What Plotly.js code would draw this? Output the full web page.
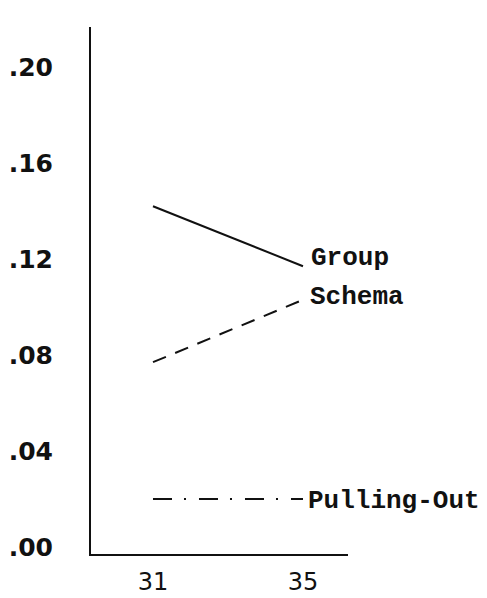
<!DOCTYPE html>
<html>
<head>
<meta charset="utf-8">
<script src="https://cdn.plot.ly/plotly-3.0.1.min.js"></script>
<style>html,body{margin:0;padding:0;background:#fff;}#chart{width:487px;height:598px;}</style>
</head>
<body>
<div id="chart"></div>
<script>
// Data
const xCategories = [31, 35];
const groupValues = [0.142, 0.117];
const schemaValues = [0.077, 0.103];
const pullingOutValues = [0.020, 0.020];
const seriesNames = ["Group", "Schema", "Pulling-Out"];
const yTickValues = [0.00, 0.04, 0.08, 0.12, 0.16, 0.20];
const yTickLabels = [".00", ".04", ".08", ".12", ".16", ".20"];
const xTickLabels = ["31", "35"];

const lineColor = "#111";
const traces = [
  {x: xCategories, y: groupValues, name: seriesNames[0], mode: "lines",
   line: {color: lineColor, width: 2, dash: "solid"}},
  {x: xCategories, y: schemaValues, name: seriesNames[1], mode: "lines",
   line: {color: lineColor, width: 2, dash: "14px,10px"}},
  {x: xCategories, y: pullingOutValues, name: seriesNames[2], mode: "lines",
   line: {color: lineColor, width: 2, dash: "19px,12px,2px,13px"}}
];

const labelFont = {family: "Liberation Mono", size: 26, color: "#111", weight: "bold"};
const last = xCategories.length - 1;
const annotations = [
  {x: xCategories[last], y: groupValues[last], text: seriesNames[0], xanchor: "left", yanchor: "middle",
   xshift: 6, yshift: 8, showarrow: false, font: labelFont},
  {x: xCategories[last], y: schemaValues[last], text: seriesNames[1], xanchor: "left", yanchor: "middle",
   xshift: 5, yshift: 3, showarrow: false, font: labelFont},
  {x: xCategories[last], y: pullingOutValues[last], text: seriesNames[2], xanchor: "left", yanchor: "middle",
   xshift: 3, yshift: -2, showarrow: false, font: labelFont}
];

const layout = {
  width: 487, height: 598,
  margin: {l: 91, r: 139, t: 27, b: 44, pad: 0},
  paper_bgcolor: "#fff", plot_bgcolor: "#fff",
  showlegend: false,
  xaxis: {
    range: [29.347, 36.2], showgrid: false, zeroline: false,
    showline: true, linecolor: "#111", linewidth: 2,
    ticks: "", tickmode: "array", tickvals: xCategories, ticktext: xTickLabels,
    tickfont: {family: "DejaVu Sans", size: 24, color: "#111"},
    ticklabelstandoff: 5
  },
  yaxis: {
    range: [-0.00292, 0.21667], showgrid: false, zeroline: false,
    showline: true, linecolor: "#111", linewidth: 2,
    ticks: "", tickmode: "array", tickvals: yTickValues, ticktext: yTickLabels,
    tickfont: {family: "DejaVu Sans", size: 25, color: "#111", weight: "bold"},
    ticklabelstandoff: 31
  },
  annotations: annotations
};

Plotly.newPlot("chart", traces, layout, {staticPlot: true, displayModeBar: false});
</script>
</body>
</html>
